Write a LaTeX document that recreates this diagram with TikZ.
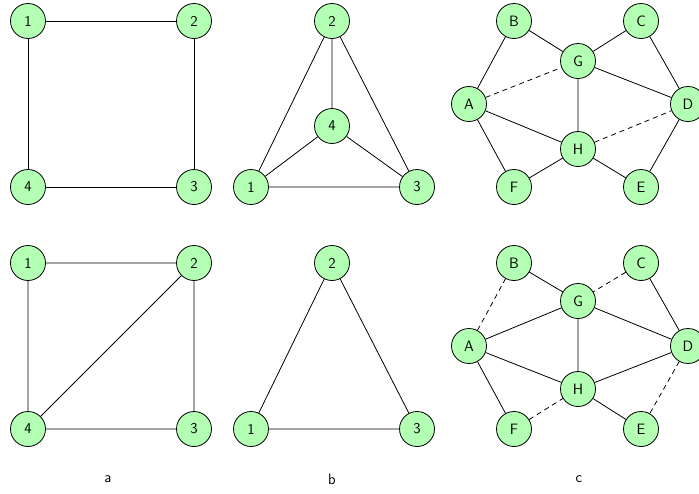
\documentclass[tikz,border=0pt]{standalone}
\usepackage{tikz}
\definecolor{nodegreen}{HTML}{B3FFB3}
\begin{document}
\begin{tikzpicture}[x=1pt,y=-1pt,
  vtx/.style={circle,draw=black,fill=nodegreen,line width=0.8pt,minimum size=35pt,inner sep=0pt,font=\sffamily\fontsize{15}{18}\selectfont},
  edge/.style={line width=0.8pt},
  dedge/.style={line width=0.8pt,dash pattern=on 5pt off 4pt},
  lab/.style={font=\sffamily\fontsize{15}{18}\selectfont}]
\useasboundingbox (0,0) rectangle (699,493);
% top a
\node[vtx] (a1) at (28,21) {1};
\node[vtx] (a2) at (194,21) {2};
\node[vtx] (a4) at (28,187) {4};
\node[vtx] (a3) at (194,187) {3};
\draw[edge] (a1)--(a2) (a2)--(a3) (a3)--(a4) (a4)--(a1);
% top b
\node[vtx] (b2) at (332,21) {2};
\node[vtx] (b4) at (332,126) {4};
\node[vtx] (b1) at (251,187) {1};
\node[vtx] (b3) at (417,187) {3};
\draw[edge] (b2)--(b4) (b2)--(b1) (b2)--(b3) (b4)--(b1) (b4)--(b3) (b1)--(b3);
% top c
\node[vtx] (cB) at (514,21) {B};
\node[vtx] (cC) at (641,21) {C};
\node[vtx] (cG) at (578,61) {G};
\node[vtx] (cA) at (469,104) {A};
\node[vtx] (cD) at (688,104) {D};
\node[vtx] (cH) at (578,149) {H};
\node[vtx] (cF) at (514,187) {F};
\node[vtx] (cE) at (641,187) {E};
\draw[edge] (cB)--(cG) (cC)--(cG) (cA)--(cB) (cC)--(cD) (cG)--(cD) (cG)--(cH) (cA)--(cH) (cA)--(cF) (cF)--(cH) (cH)--(cE) (cD)--(cE);
\draw[dedge] (cA)--(cG) (cH)--(cD);
% bottom a
\node[vtx] (d1) at (28,263) {1};
\node[vtx] (d2) at (194,263) {2};
\node[vtx] (d4) at (28,429) {4};
\node[vtx] (d3) at (194,429) {3};
\draw[edge] (d1)--(d2) (d1)--(d4) (d2)--(d4) (d2)--(d3) (d4)--(d3);
% bottom b
\node[vtx] (e2) at (332,263) {2};
\node[vtx] (e1) at (251,429) {1};
\node[vtx] (e3) at (417,429) {3};
\draw[edge] (e2)--(e1) (e2)--(e3) (e1)--(e3);
% bottom c
\node[vtx] (fB) at (514,263) {B};
\node[vtx] (fC) at (641,263) {C};
\node[vtx] (fG) at (578,301) {G};
\node[vtx] (fA) at (469,346) {A};
\node[vtx] (fD) at (688,346) {D};
\node[vtx] (fH) at (578,389) {H};
\node[vtx] (fF) at (514,429) {F};
\node[vtx] (fE) at (641,429) {E};
\draw[edge] (fB)--(fG) (fC)--(fD) (fA)--(fG) (fG)--(fD) (fG)--(fH) (fA)--(fH) (fH)--(fD) (fA)--(fF) (fH)--(fE);
\draw[dedge] (fC)--(fG) (fA)--(fB) (fF)--(fH) (fD)--(fE);
% labels
\node[lab] (la) at (108,479) {a};
\node[lab] (lb) at (332,479) {b};
\node[lab] (lc) at (579,479) {c};
\end{tikzpicture}
\end{document}
